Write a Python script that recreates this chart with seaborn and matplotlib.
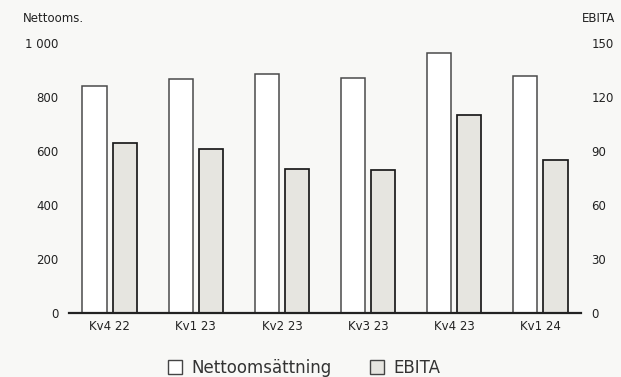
import matplotlib
matplotlib.use("Agg")
import matplotlib.pyplot as plt
from matplotlib.patches import Patch
from matplotlib.ticker import FuncFormatter
import seaborn as sns
import pandas as pd

categories = ["Kv4 22", "Kv1 23", "Kv2 23", "Kv3 23", "Kv4 23", "Kv1 24"]
nettooms = [840, 866, 884, 869, 963, 877]
ebita = [94, 91, 80, 79, 110, 85]
series = ["Nettoomsättning", "EBITA"]
left_ticks = [0, 200, 400, 600, 800, 1000]
right_ticks = [0, 30, 60, 90, 120, 150]

BG = "#f8f8f6"
GRAY = "#e6e5e0"
TXT = "#222222"

sns.set_theme(style="white")
plt.rcParams["font.family"] = ["DejaVu Sans"]

fig = plt.figure(figsize=(6.21, 3.77), dpi=100, facecolor=BG)
ax = fig.add_axes([69 / 621, 64.3 / 377, 512 / 621, 270 / 377])
ax.set_facecolor(BG)
ax2 = ax.twinx()

df_n = pd.DataFrame({"cat": categories, "val": nettooms, "series": series[0]})
df_e = pd.DataFrame({"cat": categories, "val": ebita, "series": series[1]})

pal = {series[0]: "#ffffff", series[1]: GRAY}

sns.barplot(data=df_n, x="cat", y="val", hue="series", hue_order=series,
            palette=pal, order=categories, ax=ax, width=0.70, gap=0.19,
            dodge=True, edgecolor="#4a4a4a", linewidth=1.1, legend=False,
            saturation=1, errorbar=None)
sns.barplot(data=df_e, x="cat", y="val", hue="series", hue_order=series,
            palette=pal, order=categories, ax=ax2, width=0.70, gap=0.19,
            dodge=True, edgecolor="#1a1a1a", linewidth=1.25, legend=False,
            saturation=1, errorbar=None)

ax.set_xlim(-0.473, 5.473)
ax.set_ylim(0, 1000)
ax2.set_ylim(0, 150)
ax.set_yticks(left_ticks)
ax2.set_yticks(right_ticks)
ax.yaxis.set_major_formatter(FuncFormatter(lambda v, p: f"{int(v):,}".replace(",", " ")))
ax.set_xlabel("")
ax.set_ylabel("")
ax2.set_ylabel("")

for a in (ax, ax2):
    for s in ("top", "left", "right", "bottom"):
        a.spines[s].set_visible(False)
ax2.spines["bottom"].set_visible(True)
ax2.spines["bottom"].set_color(TXT)
ax2.spines["bottom"].set_linewidth(1.6)

ax.tick_params(axis="y", length=0, pad=7.5, labelsize=8.5, labelcolor=TXT)
ax2.tick_params(axis="y", length=0, pad=7.5, labelsize=8.5, labelcolor=TXT)
ax.tick_params(axis="x", length=0, pad=5, labelsize=8.5, labelcolor=TXT)
ax.grid(False)
ax2.grid(False)

fig.text(23 / 621, 1 - 18 / 377, "Nettooms.", ha="left", va="center", fontsize=8.5, color=TXT)
fig.text(615 / 621, 1 - 18 / 377, "EBITA", ha="right", va="center", fontsize=8.5, color=TXT)

handles = [Patch(facecolor="#ffffff", edgecolor="#444444", linewidth=1.0, label=series[0]),
           Patch(facecolor=GRAY, edgecolor="#444444", linewidth=1.0, label=series[1])]
fig.legend(handles=handles, loc="center", bbox_to_anchor=(304 / 621, 1 - 367.7 / 377),
           ncol=2, frameon=False, fontsize=12, handlelength=0.87, handleheight=0.87,
           handletextpad=0.54, columnspacing=2.28, labelcolor="#333333")

fig.savefig("out.png", dpi=100, facecolor=BG)
